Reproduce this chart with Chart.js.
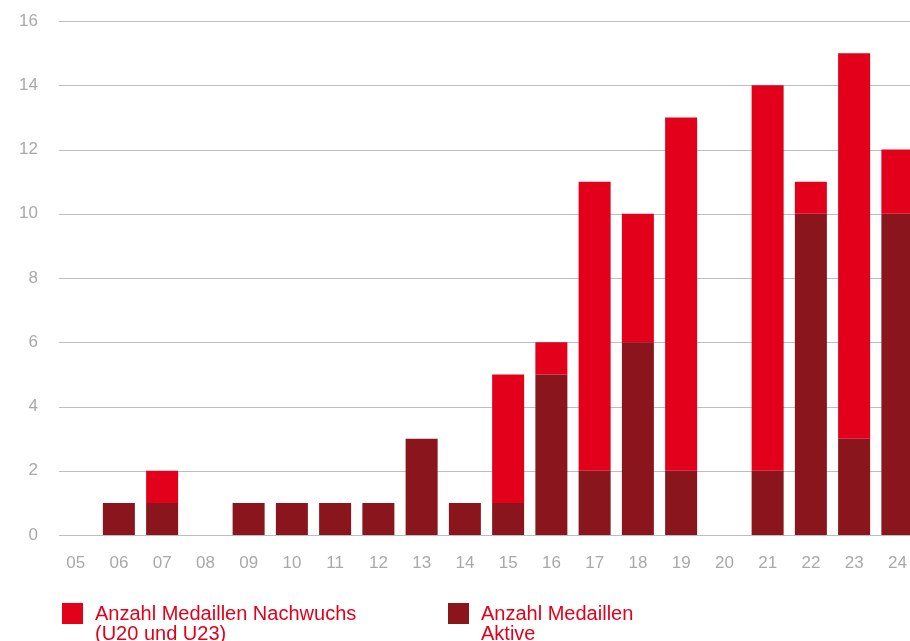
<!DOCTYPE html>
<html><head><meta charset="utf-8">
<script src="https://cdn.jsdelivr.net/npm/chart.js@4/dist/chart.umd.min.js"></script>
<style>
html,body{margin:0;padding:0;background:#fff;overflow:hidden;width:910px;height:641px;}
#wrap{position:absolute;left:0;top:0;width:925px;height:641px;}
.leg{position:absolute;font-family:"Liberation Sans",Arial,sans-serif;font-size:20px;line-height:20px;color:#E3001B;}
.sw{position:absolute;width:21px;height:21px;}
</style></head>
<body>
<div id="wrap"><canvas id="c" width="925" height="641"></canvas></div>
<div class="sw" style="left:62px;top:603px;background:#E3001B"></div>
<div class="leg" style="left:95px;top:603px">Anzahl Medaillen Nachwuchs<br>(U20 und U23)</div>
<div class="sw" style="left:448px;top:603px;background:#8A151C"></div>
<div class="leg" style="left:481px;top:603px">Anzahl Medaillen<br>Aktive</div>
<script>
const years = ["05","06","07","08","09","10","11","12","13","14","15","16","17","18","19","20","21","22","23","24"];
const aktive = [0,1,1,0,1,1,1,1,3,1,1,5,2,6,2,0,2,10,3,10];
const nachwuchs = [0,0,1,0,0,0,0,0,0,0,4,1,9,4,11,0,12,1,12,2];
const yTicks = [0,2,4,6,8,10,12,14,16];

const gridPlugin = {
  id:'gridFrom',
  beforeDatasetsDraw(chart){
    const ctx = chart.ctx, y = chart.scales.y, a = chart.chartArea;
    ctx.save();
    ctx.strokeStyle = '#bdbdbd';
    ctx.lineWidth = 1;
    yTicks.forEach(v=>{
      const py = Math.round(y.getPixelForValue(v)) + 0.5;
      ctx.beginPath(); ctx.moveTo(59, py); ctx.lineTo(a.right, py); ctx.stroke();
    });
    ctx.restore();
  }
};

new Chart(document.getElementById('c'), {
  type:'bar',
  data:{labels:years, datasets:[
    {label:'Anzahl Medaillen Aktive', data:aktive, backgroundColor:'#8A151C', barPercentage:0.74, categoryPercentage:1},
    {label:'Anzahl Medaillen Nachwuchs (U20 und U23)', data:nachwuchs, backgroundColor:'#E3001B', barPercentage:0.74, categoryPercentage:1}
  ]},
  options:{
    responsive:false, animation:false,
    layout:{padding:{top:21,right:6,left:0,bottom:61}},
    plugins:{legend:{display:false}, tooltip:{enabled:false}},
    scales:{
      x:{stacked:true, grid:{display:false, drawTicks:false}, border:{display:false},
         ticks:{color:'#a9a9a9', font:{family:'"Liberation Sans", Arial, sans-serif', size:17}, padding:18, maxRotation:0, autoSkip:false},
         afterFit(s){ s.height = 45; s.paddingLeft = 0; s.paddingRight = 0; }},
      y:{stacked:true, min:0, max:16, grid:{display:false, drawTicks:false}, border:{display:false},
         afterBuildTicks(s){ s.ticks = yTicks.map(v=>({value:v})); },
         ticks:{color:'#a9a9a9', font:{family:'"Liberation Sans", Arial, sans-serif', size:17}, padding:16},
         afterFit(s){ s.width = 54; s.paddingTop = 0; s.paddingBottom = 0; }}
    }
  },
  plugins:[gridPlugin]
});
</script>
</body></html>
